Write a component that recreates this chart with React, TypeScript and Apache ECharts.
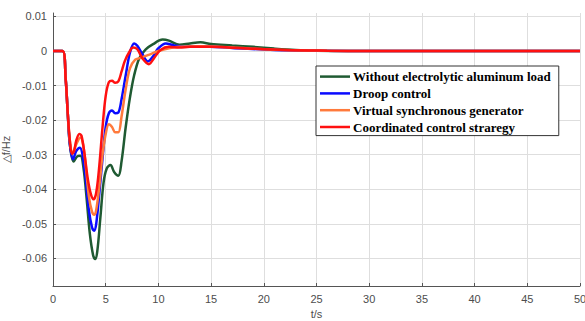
import React, { useEffect, useRef } from "react";
import * as echarts from "echarts";

const seriesNames = [
  "Without electrolytic aluminum load",
  "Droop control",
  "Virtual synchronous generator",
  "Coordinated control straregy",
];

const seriesColors = ["#1f5a32", "#0a0aff", "#ff7a3c", "#ff1010"];

const greenData: [number, number][] = [
  [0, 0], [0.9, 0], [1.2, -0.008], [1.4, -0.018], [1.6, -0.027], [1.95, -0.032],
  [2.3, -0.0305], [2.6, -0.0303], [2.9, -0.034], [3.2, -0.043], [3.5, -0.053],
  [3.8, -0.059], [4.0, -0.0602], [4.2, -0.058], [4.5, -0.048], [4.8, -0.038],
  [5.1, -0.034], [5.45, -0.033], [5.8, -0.035], [6.2, -0.0361], [6.5, -0.032],
  [6.9, -0.022], [7.3, -0.0135], [7.7, -0.007], [8.2, -0.002], [8.8, 0.0005],
  [9.5, 0.002], [10.4, 0.0033], [11, 0.003], [12, 0.0018], [13, 0.0022],
  [14, 0.0025], [15, 0.002], [17, 0.0016], [19, 0.0012], [21, 0.0007],
  [23, 0.0003], [25, 0.0001], [28, 0], [50, 0],
];

const blueData: [number, number][] = [
  [0, 0], [0.9, 0], [1.2, -0.008], [1.4, -0.018], [1.6, -0.027], [1.9, -0.0313],
  [2.2, -0.029], [2.55, -0.028], [2.8, -0.03], [3.1, -0.037], [3.4, -0.046],
  [3.7, -0.051], [3.9, -0.052], [4.1, -0.05], [4.4, -0.041], [4.7, -0.031],
  [5.0, -0.022], [5.3, -0.018], [5.6, -0.0172], [5.9, -0.018], [6.2, -0.0178],
  [6.5, -0.014], [6.9, -0.007], [7.3, -0.0005], [7.7, 0.0022], [8.0, 0.0015],
  [8.5, -0.001], [9.0, -0.003], [9.5, -0.0015], [10.0, 0.0008], [10.7, 0.0022],
  [11.5, 0.0016], [12.5, 0.0012], [14, 0.0013], [17, 0.0009], [21, 0.0003],
  [26, 0.0001], [30, 0], [50, 0],
];

const orangeData: [number, number][] = [
  [0, 0], [0.9, 0], [1.2, -0.008], [1.4, -0.018], [1.6, -0.026], [1.85, -0.0295],
  [2.2, -0.027], [2.6, -0.025], [2.85, -0.027], [3.1, -0.033], [3.4, -0.042],
  [3.7, -0.0465], [3.9, -0.0474], [4.1, -0.046], [4.4, -0.039], [4.7, -0.03],
  [5.0, -0.024], [5.3, -0.0212], [5.6, -0.022], [5.9, -0.0235], [6.2, -0.0235],
  [6.5, -0.019], [6.9, -0.011], [7.3, -0.005], [7.8, -0.0025], [8.3, -0.002],
  [9.0, -0.0012], [10, 0], [11, 0.0008], [12, 0.0012], [14, 0.0014], [17, 0.001],
  [21, 0.0004], [26, 0.0001], [30, 0], [50, 0],
];

const redData: [number, number][] = [
  [0, 0], [0.9, 0], [1.2, -0.008], [1.4, -0.018], [1.6, -0.026], [1.8, -0.0298],
  [2.0, -0.029], [2.2, -0.026], [2.5, -0.024], [2.7, -0.0245], [3.0, -0.03],
  [3.3, -0.037], [3.6, -0.0415], [3.85, -0.0429], [4.1, -0.041], [4.4, -0.033],
  [4.7, -0.022], [5.0, -0.013], [5.3, -0.009], [5.6, -0.0086], [5.9, -0.0092],
  [6.2, -0.0088], [6.5, -0.006], [6.8, -0.003], [7.2, -0.0005], [7.6, 0.001],
  [8.0, 0.0005], [8.5, -0.0022], [9.1, -0.0038], [9.6, -0.002], [10.2, 0.0003],
  [11, 0.0012], [12, 0.001], [13, 0.0012], [15, 0.0012], [18, 0.0008],
  [22, 0.0003], [26, 0.0001], [30, 0], [50, 0],
];

const yTicks = [-0.06, -0.05, -0.04, -0.03, -0.02, -0.01, 0, 0.01];
const xTicks = [0, 5, 10, 15, 20, 25, 30, 35, 40, 45, 50];

const allData = [greenData, blueData, orangeData, redData];

export default function App() {
  const ref = useRef<HTMLDivElement>(null);
  useEffect(() => {
    if (!ref.current) return;
    const chart = echarts.init(ref.current, undefined, { renderer: "svg" });
    const labelColor = "#4d4d4d";
    chart.setOption({
      animation: false,
      backgroundColor: "#ffffff",
      grid: { left: 53, right: 5, top: 13, bottom: 35, containLabel: false, outerBoundsMode: "none" },
      legend: {
        orient: "vertical",
        left: 316,
        top: 66,
        backgroundColor: "#ffffff",
        borderColor: "#333333",
        borderWidth: 1,
        borderRadius: 0,
        padding: [4, 8, 2, 4],
        itemGap: 3.6,
        itemWidth: 30,
        itemHeight: 2.5,
        icon: "rect",
        textStyle: {
          fontFamily: "Liberation Serif",
          fontWeight: "bold",
          fontSize: 13,
          lineHeight: 13.2,
          color: "#000000",
          padding: [0, 0, 0, -2],
        },
        data: seriesNames,
      },
      xAxis: {
        type: "value",
        min: 0,
        max: 50,
        interval: 5,
        name: "t/s",
        nameLocation: "middle",
        nameGap: 21,
        nameTextStyle: { fontFamily: "Liberation Sans", fontSize: 11, color: labelColor },
        axisLine: { show: true, onZero: false, lineStyle: { color: "#555555", width: 1 } },
        axisTick: { show: true, inside: true, length: 3, lineStyle: { color: "#555555" }, customValues: xTicks },
        axisLabel: {
          fontFamily: "Liberation Sans",
          fontSize: 11,
          color: labelColor,
          margin: 7,
          customValues: xTicks,
        },
        splitLine: { show: true, lineStyle: { color: "#dedede", width: 1 } },
      },
      yAxis: {
        type: "value",
        min: -0.068,
        max: 0.011,
        name: "△f/Hz",
        nameLocation: "middle",
        nameGap: 37,
        nameRotate: 90,
        nameTextStyle: { fontFamily: "Liberation Sans", fontSize: 11, color: labelColor },
        axisLine: { show: true, onZero: false, lineStyle: { color: "#555555", width: 1 } },
        axisTick: { show: true, inside: true, length: 3, lineStyle: { color: "#555555" }, customValues: yTicks },
        axisLabel: {
          fontFamily: "Liberation Sans",
          fontSize: 11,
          color: labelColor,
          margin: 6,
          customValues: yTicks,
          formatter: (v: number) => (Math.abs(v) < 1e-9 ? "0" : v.toFixed(2)),
        },
        splitLine: { show: true, lineStyle: { color: "#dedede", width: 1 } },
      },
      series: seriesNames.map((name, i) => ({
        name,
        type: "line",
        data: allData[i],
        symbol: "none",
        smooth: 0.35,
        lineStyle: { color: seriesColors[i], width: 2.5 },
        itemStyle: { color: seriesColors[i] },
        z: 2 + i,
      })),
    });
    return () => chart.dispose();
  }, []);
  return <div ref={ref} style={{ width: 585, height: 321, position: "fixed", left: 0, top: 0 }} />;
}
